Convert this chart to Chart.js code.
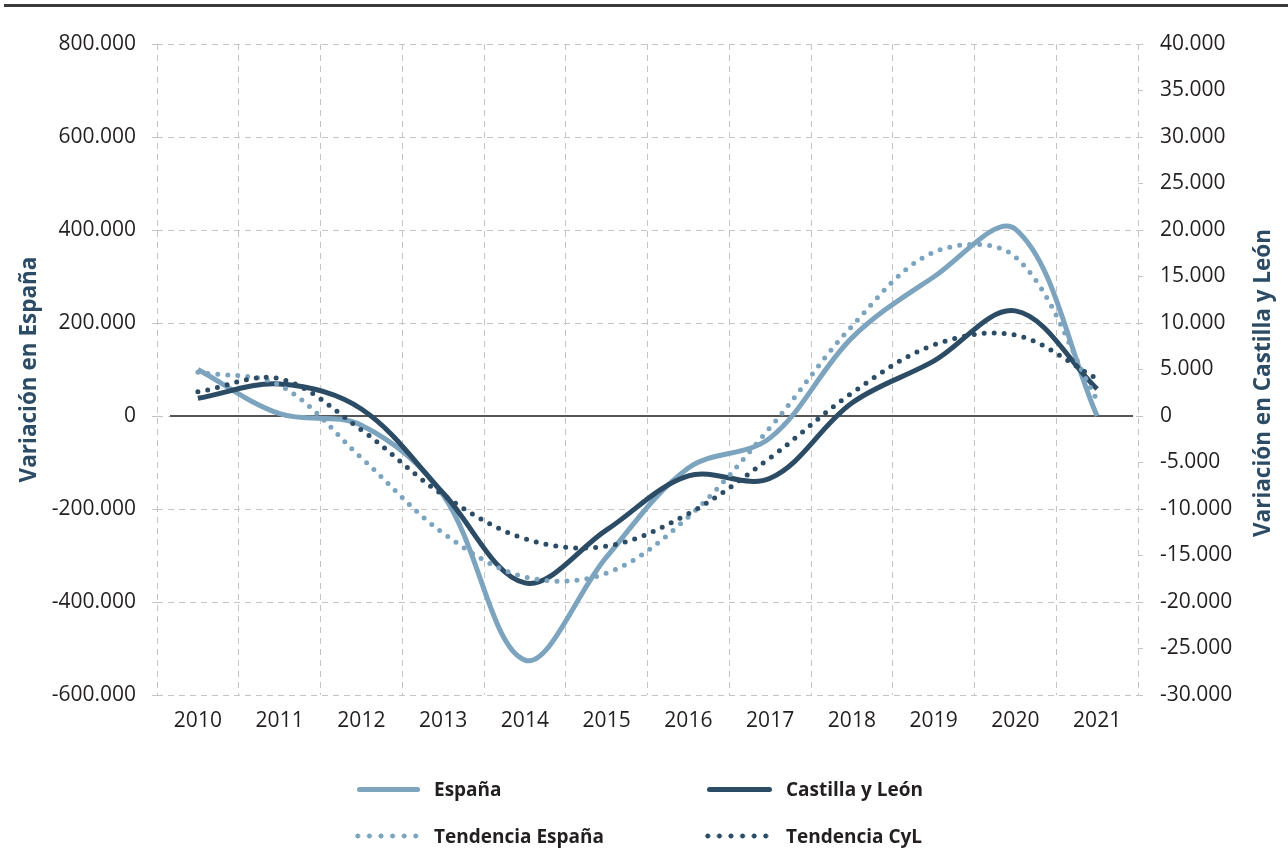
<!DOCTYPE html>
<html lang="es">
<head>
<meta charset="utf-8">
<title>Variación en España y Castilla y León</title>
<script src="https://cdn.jsdelivr.net/npm/chart.js@4.4.1/dist/chart.umd.min.js"></script>
<style>
  html, body { margin: 0; padding: 0; background: #fff; }
  #wrap { position: relative; width: 1288px; height: 849px; overflow: hidden; font-family: "Open Sans", sans-serif; }
  #topline { position: absolute; left: 4px; right: 0; top: 4px; height: 3px; background: #3b3b3b; }
  canvas { position: absolute; left: 0; top: 0; }
  .leg { position: absolute; font-weight: bold; font-size: 19px; line-height: 24px; color: #231f20; white-space: nowrap; }
  .sw { position: absolute; height: 5px; border-radius: 3px; }
  .dots { position: absolute; height: 6px; background-size: 11.6px 6px; background-repeat: repeat-x; }
</style>
</head>
<body>
<div id="wrap">
  <div id="topline"></div>
  <canvas id="chart" width="1288" height="849"></canvas>

  <div class="sw" style="left:357px;top:787px;width:63px;background:#7ca4bf"></div>
  <div class="leg" style="left:434px;top:777px">España</div>
  <div class="sw" style="left:707px;top:787px;width:65px;background:#2c4b65"></div>
  <div class="leg" style="left:786px;top:777px">Castilla y León</div>

  <div class="dots" style="left:352px;top:833px;width:70px;background-image:radial-gradient(circle,#7ca4bf 2.2px,transparent 2.8px)"></div>
  <div class="leg" style="left:434px;top:824px">Tendencia España</div>
  <div class="dots" style="left:702px;top:833px;width:70px;background-image:radial-gradient(circle,#2c4b65 2.2px,transparent 2.8px)"></div>
  <div class="leg" style="left:786px;top:824px">Tendencia CyL</div>
</div>

<script>
// datos anuales (variación)
const years = ['2010', '2011', '2012', '2013', '2014', '2015', '2016', '2017', '2018', '2019', '2020', '2021'];
const espana = [100000, 5000, -20000, -170000, -525000, -303000, -112000, -47000, 168000, 299000, 402000, 0];
const cyl = [1900, 3440, 750, -8280, -17950, -12250, -6450, -6700, 1400, 5900, 11300, 2900];
const tendEspana = [94000, 66000, -90000, -252000, -346000, -338000, -217000, -25000, 193000, 352000, 342000, 34000];
const tendCyl = [2600, 4000, -1500, -8500, -13200, -14000, -10500, -4500, 2470, 7630, 8700, 4000];

// escalas
const leftMin = -600000, leftMax = 800000, leftStep = 200000;
const rightMin = -30000, rightMax = 40000, rightStep = 5000;

const light = '#7ca4bf';
const dark = '#2c4b65';
const gridColor = '#c4c4c4';
const tickFont = { family: '"Open Sans", sans-serif', size: 21 };

function fmt(v) {
    const s = String(Math.abs(v)).replace(/\B(?=(\d{3})+(?!\d))/g, '.');
    return (v < 0 ? '-' : '') + s;
}

// linea del cero y titulos de los ejes
const extras = {
    id: 'extras',
    beforeDatasetsDraw(chart) {
        const ctx = chart.ctx;
        const area = chart.chartArea;
        const y0 = chart.scales.y.getPixelForValue(0);
        ctx.save();
        ctx.strokeStyle = '#555555';
        ctx.lineWidth = 2;
        ctx.beginPath();
        ctx.moveTo(area.left + 13, y0);
        ctx.lineTo(area.right - 5, y0);
        ctx.stroke();
        ctx.restore();
    },
    afterDraw(chart) {
        const ctx = chart.ctx;
        const area = chart.chartArea;
        ctx.save();
        ctx.font = 'bold 22.5px "Open Sans", sans-serif';
        ctx.fillStyle = dark;
        ctx.textAlign = 'center';
        ctx.textBaseline = 'middle';

        ctx.save();
        ctx.translate(30, (area.top + area.bottom) / 2);
        ctx.rotate(-Math.PI / 2);
        ctx.fillText('Variación en España', 0, 0);
        ctx.restore();

        ctx.save();
        ctx.translate(1264, 383);
        ctx.rotate(-Math.PI / 2);
        ctx.fillText('Variación en Castilla y León', 0, 0);
        ctx.restore();

        ctx.restore();
    }
};

const data = {
    labels: years,
    datasets: [
        {
            label: 'España',
            data: espana,
            yAxisID: 'y',
            borderColor: light,
            borderWidth: 5,
            order: 3
        },
        {
            label: 'Castilla y León',
            data: cyl,
            yAxisID: 'y2',
            borderColor: dark,
            borderWidth: 5,
            order: 2
        },
        {
            label: 'Tendencia España',
            data: tendEspana,
            yAxisID: 'y',
            borderColor: light,
            borderWidth: 5,
            borderDash: [0, 10],
            borderCapStyle: 'round',
            order: 1
        },
        {
            label: 'Tendencia CyL',
            data: tendCyl,
            yAxisID: 'y2',
            borderColor: dark,
            borderWidth: 5,
            borderDash: [0, 10],
            borderCapStyle: 'round',
            order: 0
        }
    ]
};

const config = {
    type: 'line',
    data: data,
    options: {
        responsive: false,
        animation: false,
        layout: { padding: { top: 44, bottom: 104, left: 0, right: 0 } },
        elements: {
            line: { tension: 0.35, fill: false },
            point: { radius: 0, hoverRadius: 0 }
        },
        plugins: {
            legend: { display: false },
            tooltip: { enabled: false }
        },
        scales: {
            x: {
                type: 'category',
                offset: true,
                grid: { offset: true, color: gridColor, drawTicks: false },
                border: { display: false, dash: [6, 5] },
                ticks: { font: tickFont, color: '#231f20', padding: 13, maxRotation: 0 },
                afterFit(s) { s.height = 50; }
            },
            y: {
                position: 'left',
                min: leftMin,
                max: leftMax,
                grid: { color: gridColor, tickLength: 5, tickColor: gridColor },
                border: { display: false, dash: [6, 5] },
                ticks: { stepSize: leftStep, font: tickFont, color: '#231f20', padding: 16, callback: v => fmt(v) },
                afterFit(s) { s.width = 157; }
            },
            y2: {
                position: 'right',
                min: rightMin,
                max: rightMax,
                grid: { drawOnChartArea: false, tickLength: 5, tickColor: gridColor },
                border: { display: false },
                ticks: { stepSize: rightStep, font: tickFont, color: '#231f20', padding: 17, callback: v => fmt(v) },
                afterFit(s) { s.width = 150; }
            }
        }
    },
    plugins: [extras]
};

const ctx = document.getElementById('chart').getContext('2d');
const lineChart = new Chart(ctx, config);
</script>
</body>
</html>
